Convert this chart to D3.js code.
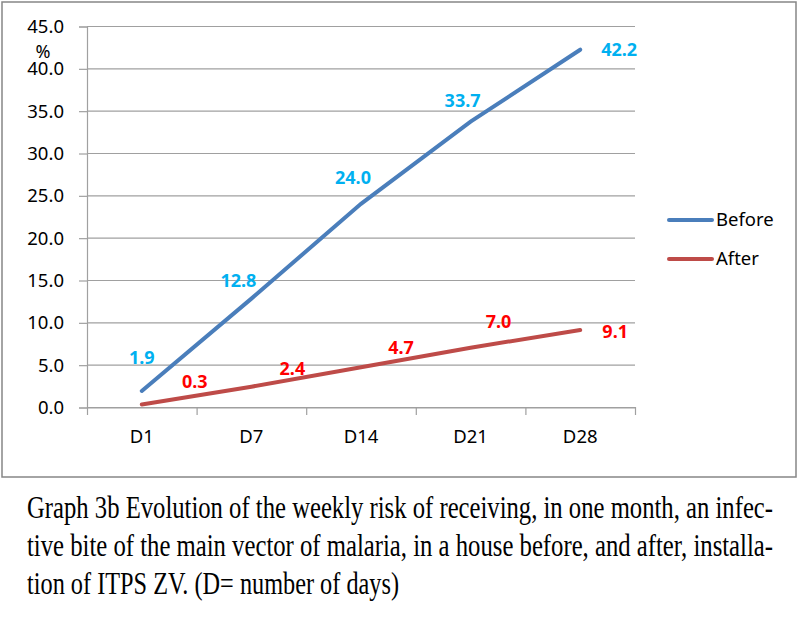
<!DOCTYPE html>
<html><head><meta charset="utf-8">
<script src="https://cdn.jsdelivr.net/npm/d3@7"></script>
<style>html,body{margin:0;padding:0;background:#fff;}svg{display:block;}</style>
</head><body>
<svg id="c" width="800" height="626"></svg>
<script>
const categories = ["D1", "D7", "D14", "D21", "D28"];
const beforeValues = [1.9, 12.8, 24.0, 33.7, 42.2];
const afterValues = [0.3, 2.4, 4.7, 7.0, 9.1];
const yTicks = [0, 5, 10, 15, 20, 25, 30, 35, 40, 45];
const seriesNames = ["Before", "After"];
const captionLines = [
  "Graph 3b Evolution of the weekly risk of receiving, in one month, an infec-",
  "tive bite of the main vector of malaria, in a house before, and after, installa-",
  "tion of ITPS ZV. (D= number of days)"
];
const captionWidths = [746, 746, 372];

// label offsets (styling), in px relative to point
const beforeLabelOff = [[0,-33],[-13,-18],[-8,-26],[-8,-21],[39,0]];
const afterLabelOff = [[53,-23],[41,-18],[40,-20],[28,-26],[35,2]];

const svg = d3.select("#c");
const font = "'Noto Sans', sans-serif";

svg.append("rect").attr("x",2).attr("y",2).attr("width",794).attr("height",475)
  .attr("fill","#fff").attr("stroke","#868686").attr("stroke-width",1.5);

const x = d3.scaleBand().domain(categories).range([87, 635]);
const y = d3.scaleLinear().domain([0, 45]).range([407, 26]);

// gridlines
svg.append("g").selectAll("line").data(yTicks).join("line")
  .attr("x1", 87).attr("x2", 635)
  .attr("y1", d => y(d)+0.5).attr("y2", d => y(d)+0.5)
  .attr("stroke", "#a0a0a0").attr("stroke-width", 1.2);

// y axis
const yAxis = svg.append("g").attr("transform","translate(87,0.5)")
  .call(d3.axisLeft(y).tickValues(yTicks).tickFormat(d3.format(".1f")).tickSize(8).tickPadding(15));
yAxis.select(".domain").attr("stroke","#a0a0a0").attr("stroke-width",1.2);
yAxis.selectAll(".tick line").attr("stroke","#a0a0a0").attr("stroke-width",1.2);
yAxis.selectAll("text").attr("font-family",font).attr("font-size",18.5).attr("fill","#000");

// x axis
const xAxis = svg.append("g").attr("transform","translate(0,407.5)")
  .call(d3.axisBottom(x).tickSize(0).tickPadding(22));
xAxis.select(".domain").attr("stroke","#a0a0a0").attr("stroke-width",1.2);
xAxis.selectAll("text").attr("font-family",font).attr("font-size",18.5).attr("fill","#000");
// band-boundary ticks
const bounds = categories.map(c => x(c)).concat([x.range()[1]]);
svg.append("g").selectAll("line").data(bounds).join("line")
  .attr("x1", d => d+0.5).attr("x2", d => d+0.5)
  .attr("y1", 407).attr("y2", 415)
  .attr("stroke","#a0a0a0").attr("stroke-width",1.2);

// % label
svg.append("text").attr("x",43).attr("y",58).attr("text-anchor","middle")
  .attr("font-family",font).attr("font-size",18).text("%");

const cx = c => x(c) + x.bandwidth()/2;
const line = d3.line().x((d,i) => cx(categories[i])).y(d => y(d));

const series = [
  {name: seriesNames[0], values: beforeValues, color: "#4A7EBB", labelColor: "#00B0F0", off: beforeLabelOff},
  {name: seriesNames[1], values: afterValues, color: "#BE4B48", labelColor: "#FF0000", off: afterLabelOff}
];

series.forEach(s => {
  svg.append("path").datum(s.values).attr("d", line)
    .attr("fill","none").attr("stroke", s.color).attr("stroke-width", 4).attr("stroke-linecap","round");
});
series.forEach(s => {
  svg.append("g").selectAll("text").data(s.values).join("text")
    .attr("x", (d,i) => cx(categories[i]) + s.off[i][0])
    .attr("y", (d,i) => y(d) + s.off[i][1])
    .attr("dy", "0.35em")
    .attr("text-anchor","middle")
    .attr("font-family",font).attr("font-size",18).attr("font-weight","bold")
    .attr("fill", s.labelColor)
    .text(d => d3.format(".1f")(d));
});

// legend
series.forEach((s, i) => {
  const ly = 220 + i*39;
  svg.append("line").attr("x1",669).attr("x2",712).attr("y1",ly).attr("y2",ly)
    .attr("stroke", s.color).attr("stroke-width",4).attr("stroke-linecap","round");
  svg.append("text").attr("x",716).attr("y",ly).attr("dy","0.35em")
    .attr("font-family",font).attr("font-size",18.5).text(s.name);
});

// caption (tall, condensed Times look)
captionLines.forEach((t, i) => {
  svg.append("g").attr("transform", `translate(27,${518 + i*38}) scale(1,1.35)`)
    .append("text").attr("x",0).attr("y",0)
    .attr("font-family","'Liberation Serif', 'Times New Roman', serif").attr("font-size",24)
    .attr("fill","#000")
    .attr("textLength", captionWidths[i]).attr("lengthAdjust","spacingAndGlyphs")
    .text(t);
});
</script>
</body></html>
